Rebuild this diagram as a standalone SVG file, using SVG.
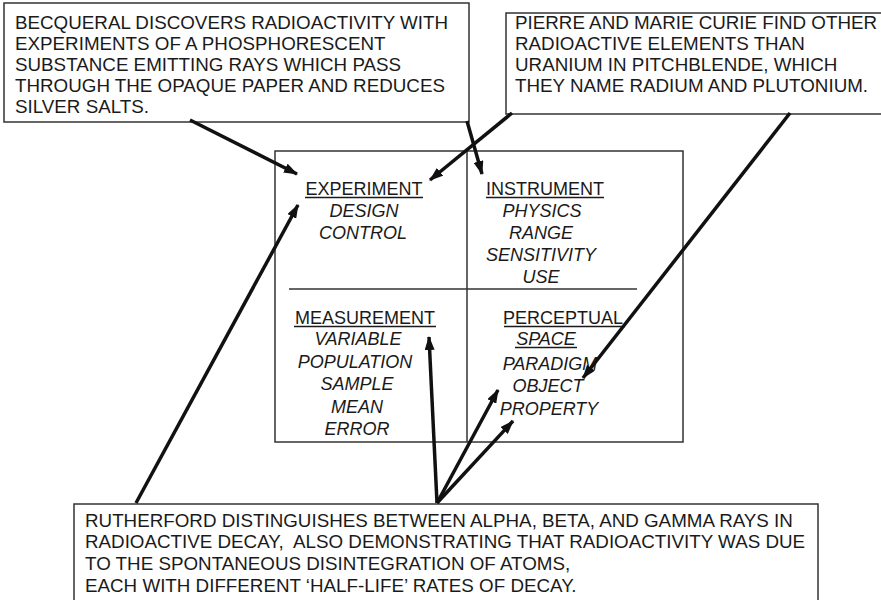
<svg xmlns="http://www.w3.org/2000/svg" width="881" height="600" viewBox="0 0 881 600">
<defs>
<style>
.box{fill:#fff;stroke:#333;stroke-width:1.5}
.t{font-family:"Liberation Sans",Arial,sans-serif;font-size:18.8px;fill:#1a1a1a}
.c{font-family:"Liberation Sans",Arial,sans-serif;font-size:18px;fill:#1a1a1a;text-anchor:middle}
.i{font-style:italic}
.ul{stroke:#1a1a1a;stroke-width:1.6}
.div{stroke:#333;stroke-width:1.5}
.arr{stroke:#111;stroke-width:3.5;fill:none;marker-end:url(#ah)}
</style>
<marker id="ah" markerUnits="userSpaceOnUse" viewBox="0 0 14 10" refX="13" refY="5" markerWidth="14" markerHeight="10" orient="auto">
<path d="M0,0 L14,5 L0,10 z" fill="#111"/>
</marker>
</defs>

<g id="becquerel">
<rect class="box" x="4" y="3" width="465" height="119"/>
<text class="t" x="15" y="29">BECQUERAL DISCOVERS RADIOACTIVITY WITH</text>
<text class="t" x="15" y="50">EXPERIMENTS OF A PHOSPHORESCENT</text>
<text class="t" x="15" y="71">SUBSTANCE EMITTING RAYS WHICH PASS</text>
<text class="t" x="15" y="92">THROUGH THE OPAQUE PAPER AND REDUCES</text>
<text class="t" x="15" y="113">SILVER SALTS.</text>
</g>

<g id="curie">
<rect class="box" x="506" y="13" width="380" height="101"/>
<text class="t" x="515" y="29">PIERRE AND MARIE CURIE FIND OTHER</text>
<text class="t" x="515" y="50">RADIOACTIVE ELEMENTS THAN</text>
<text class="t" x="515" y="71">URANIUM IN PITCHBLENDE, WHICH</text>
<text class="t" x="515" y="92">THEY NAME RADIUM AND PLUTONIUM.</text>
</g>

<g id="matrix">
<rect class="box" x="275" y="151" width="408" height="291"/>
<line class="div" x1="467" y1="151" x2="467" y2="442"/>
<line class="div" x1="289" y1="289" x2="637" y2="289"/>
</g>

<g id="experiment">
<text class="c" x="364" y="195">EXPERIMENT</text>
<line class="ul" x1="305" y1="197.5" x2="423" y2="197.5"/>
<text class="c i" x="364" y="217">DESIGN</text>
<text class="c i" x="363" y="239">CONTROL</text>
</g>

<g id="instrument">
<text class="c" x="545" y="195">INSTRUMENT</text>
<line class="ul" x1="486" y1="197.5" x2="604" y2="197.5"/>
<text class="c i" x="542" y="217">PHYSICS</text>
<text class="c i" x="541" y="239">RANGE</text>
<text class="c i" x="541" y="261">SENSITIVITY</text>
<text class="c i" x="541" y="283">USE</text>
</g>

<g id="measurement">
<text class="c" x="365" y="324">MEASUREMENT</text>
<line class="ul" x1="294" y1="326.5" x2="436" y2="326.5"/>
<text class="c i" x="358" y="345">VARIABLE</text>
<text class="c i" x="355" y="368">POPULATION</text>
<text class="c i" x="357" y="390">SAMPLE</text>
<text class="c i" x="357" y="413">MEAN</text>
<text class="c i" x="357" y="435">ERROR</text>
</g>

<g id="perceptual">
<text class="c" x="563" y="324">PERCEPTUAL</text>
<line class="ul" x1="504" y1="326.5" x2="625" y2="326.5"/>
<text class="c i" x="546" y="345">SPACE</text>
<line class="ul" x1="515" y1="347.5" x2="577" y2="347.5"/>
<text class="c i" x="550" y="370">PARADIGM</text>
<text class="c i" x="548" y="392">OBJECT</text>
<text class="c i" x="549" y="415">PROPERTY</text>
</g>

<g id="rutherford">
<rect class="box" x="74" y="504" width="744" height="110"/>
<text class="t" x="85" y="527">RUTHERFORD DISTINGUISHES BETWEEN ALPHA, BETA, AND GAMMA RAYS IN</text>
<text class="t" x="85" y="548" xml:space="preserve">RADIOACTIVE DECAY,  ALSO DEMONSTRATING THAT RADIOACTIVITY WAS DUE</text>
<text class="t" x="85" y="570">TO THE SPONTANEOUS DISINTEGRATION OF ATOMS,</text>
<text class="t" x="85" y="592">EACH WITH DIFFERENT ‘HALF-LIFE’ RATES OF DECAY.</text>
</g>

<g id="connectors">
<line class="arr" x1="190" y1="120" x2="297" y2="174"/>
<line class="arr" x1="467" y1="121" x2="482" y2="174"/>
<line class="arr" x1="512" y1="113" x2="430" y2="180"/>
<line class="arr" x1="790" y1="113" x2="583" y2="378"/>
<line class="arr" x1="136" y1="503" x2="298" y2="205"/>
<line class="arr" x1="437" y1="503" x2="429" y2="337"/>
<line class="arr" x1="437" y1="503" x2="498" y2="390"/>
<line class="arr" x1="437" y1="503" x2="513" y2="421"/>
</g>
</svg>
